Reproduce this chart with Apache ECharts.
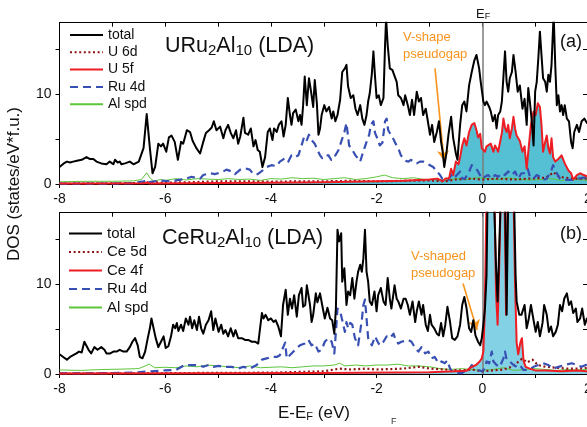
<!DOCTYPE html>
<html>
<head>
<meta charset="utf-8">
<script src="https://cdn.jsdelivr.net/npm/echarts@6/dist/echarts.min.js"></script>
<style>
html,body{margin:0;padding:0;background:#fff;}
#chart{width:587px;height:427px;}
</style>
</head>
<body>
<div id="chart"></div>
<script>
// Energy axis ticks / labels (eV, relative to E_F)
const xTicks = [-8, -7, -6, -5, -4, -3, -2, -1, 0, 1, 2];
const xLabels = [-8, -6, -4, -2, 0, 2];
const yTicks = [0, 5, 10, 15];
const yLabels = [0, 10];

// ---- URu2Al10 (LDA): [energy, DOS] ----
const uTotal = [[-8.00,1.9],[-7.92,2.3],[-7.86,2.5],[-7.80,2.4],[-7.74,2.5],[-7.67,2.6],[-7.64,2.8],[-7.58,2.7],[-7.49,3.0],[-7.43,2.8],[-7.36,2.8],[-7.30,2.5],[-7.21,2.3],[-7.11,2.2],[-7.05,2.5],[-6.98,2.2],[-6.95,2.7],[-6.90,2.4],[-6.86,2.5],[-6.83,2.2],[-6.76,2.3],[-6.67,2.5],[-6.60,2.2],[-6.50,2.5],[-6.41,4.0],[-6.35,7.8],[-6.29,4.0],[-6.24,1.2],[-6.19,1.9],[-6.13,4.5],[-6.08,4.2],[-6.04,4.5],[-5.98,3.6],[-5.93,5.2],[-5.88,5.4],[-5.82,4.7],[-5.76,2.7],[-5.70,4.7],[-5.66,4.5],[-5.59,6.0],[-5.53,5.8],[-5.48,4.8],[-5.41,4.0],[-5.34,3.4],[-5.28,4.7],[-5.23,5.7],[-5.17,6.0],[-5.12,6.3],[-5.08,7.0],[-5.03,6.0],[-4.96,6.4],[-4.90,5.1],[-4.86,6.0],[-4.81,6.6],[-4.76,5.7],[-4.71,5.1],[-4.66,6.0],[-4.62,4.5],[-4.58,5.3],[-4.52,7.4],[-4.49,5.7],[-4.43,5.5],[-4.38,6.2],[-4.33,4.2],[-4.29,4.9],[-4.25,3.8],[-4.21,3.6],[-4.16,1.9],[-4.11,3.0],[-4.06,5.8],[-4.02,6.2],[-3.97,4.9],[-3.94,6.2],[-3.89,5.8],[-3.85,6.6],[-3.80,7.0],[-3.76,5.3],[-3.72,6.6],[-3.68,9.6],[-3.64,7.7],[-3.61,6.6],[-3.58,7.9],[-3.53,8.3],[-3.48,7.0],[-3.45,7.7],[-3.42,6.6],[-3.39,8.8],[-3.36,12.0],[-3.32,8.8],[-3.28,11.8],[-3.24,10.3],[-3.20,8.6],[-3.17,11.6],[-3.13,9.0],[-3.10,5.5],[-3.07,6.2],[-3.04,7.7],[-2.99,8.8],[-2.95,8.1],[-2.90,8.6],[-2.85,7.3],[-2.82,8.1],[-2.78,7.0],[-2.74,7.7],[-2.69,9.4],[-2.65,12.5],[-2.60,12.9],[-2.57,13.3],[-2.54,10.9],[-2.49,9.6],[-2.44,9.9],[-2.40,8.4],[-2.36,7.7],[-2.31,8.8],[-2.27,7.3],[-2.23,6.6],[-2.19,7.7],[-2.16,9.2],[-2.13,10.1],[-2.09,12.3],[-2.06,14.8],[-2.03,12.0],[-2.00,9.6],[-1.96,9.9],[-1.92,8.8],[-1.87,9.6],[-1.84,15.5],[-1.82,18.5],[-1.79,15.5],[-1.75,12.9],[-1.70,12.7],[-1.67,12.2],[-1.62,11.4],[-1.59,9.9],[-1.54,9.6],[-1.49,8.8],[-1.46,9.9],[-1.41,8.8],[-1.37,7.7],[-1.33,9.4],[-1.29,7.7],[-1.24,10.3],[-1.20,9.2],[-1.16,9.6],[-1.12,7.7],[-1.07,8.4],[-1.03,7.0],[-0.99,5.5],[-0.95,6.6],[-0.91,4.7],[-0.86,5.8],[-0.82,7.0],[-0.78,4.7],[-0.75,3.6],[-0.72,1.9],[-0.68,3.4],[-0.64,5.5],[-0.59,7.5],[-0.55,5.1],[-0.50,3.4],[-0.47,2.7],[-0.42,6.6],[-0.38,8.8],[-0.34,9.2],[-0.30,8.1],[-0.25,11.0],[-0.20,12.5],[-0.15,13.8],[-0.11,14.4],[-0.06,12.9],[-0.03,11.4],[0.02,9.2],[0.05,8.8],[0.08,9.2],[0.13,8.6],[0.16,8.1],[0.20,7.0],[0.24,7.7],[0.27,6.2],[0.30,7.7],[0.34,8.1],[0.37,9.2],[0.40,9.2],[0.43,14.8],[0.46,11.4],[0.49,10.3],[0.52,11.8],[0.56,12.5],[0.59,14.4],[0.63,12.5],[0.67,10.3],[0.71,11.0],[0.76,8.4],[0.80,9.5],[0.84,6.6],[0.87,10.7],[0.90,9.2],[0.93,7.4],[0.97,4.3],[1.00,10.3],[1.03,11.4],[1.06,14.0],[1.09,17.0],[1.12,14.4],[1.15,11.8],[1.19,11.4],[1.22,10.3],[1.25,12.2],[1.28,11.4],[1.31,13.3],[1.35,19.0],[1.38,13.3],[1.41,8.8],[1.44,9.9],[1.47,8.1],[1.50,8.8],[1.53,7.7],[1.56,8.8],[1.60,7.3],[1.64,7.0],[1.68,4.7],[1.71,4.0],[1.74,5.8],[1.79,6.6],[1.83,5.8],[1.88,7.0],[1.93,7.3],[1.98,6.8],[2.00,6.9]];
const u6d = [[-8.0,0.05],[-6.5,0.1],[-6.3,0.2],[-6.0,0.15],[-5.5,0.2],[-5.0,0.3],[-4.5,0.3],[-4.0,0.25],[-3.5,0.3],[-3.0,0.3],[-2.5,0.35],[-2.0,0.3],[-1.5,0.35],[-1.0,0.4],[-0.7,0.3],[-0.5,0.5],[-0.2,0.6],[0.0,0.5],[0.3,0.6],[0.6,0.5],[0.9,0.6],[1.2,0.7],[1.35,1.3],[1.45,0.8],[1.7,0.6],[2.0,0.6]];
const u5f = [[-8.0,0.05],[-6.4,0.08],[-6.35,0.15],[-6.3,0.05],[-5.0,0.1],[-4.0,0.15],[-3.0,0.2],[-2.0,0.3],[-1.5,0.35],[-1.0,0.5],[-0.85,0.6],[-0.75,0.3],[-0.70,0.6],[-0.63,0.6],[-0.59,1.7],[-0.55,1.0],[-0.50,2.5],[-0.45,2.2],[-0.42,3.0],[-0.38,4.3],[-0.34,5.1],[-0.30,4.3],[-0.25,5.8],[-0.20,6.6],[-0.15,6.8],[-0.11,6.0],[-0.08,5.2],[-0.04,5.6],[-0.01,4.0],[0.02,4.2],[0.05,3.6],[0.08,4.2],[0.11,4.0],[0.16,4.5],[0.21,3.6],[0.24,4.3],[0.27,4.0],[0.30,3.6],[0.34,4.8],[0.37,5.7],[0.40,7.3],[0.43,6.3],[0.46,5.8],[0.49,6.6],[0.52,5.1],[0.56,6.2],[0.59,7.5],[0.62,6.2],[0.65,5.4],[0.68,5.1],[0.71,4.8],[0.76,3.6],[0.80,4.2],[0.84,1.7],[0.87,3.6],[0.92,6.6],[0.97,8.1],[1.01,7.7],[1.05,9.0],[1.09,8.6],[1.12,6.6],[1.15,3.6],[1.19,4.7],[1.22,5.4],[1.25,4.0],[1.28,3.4],[1.31,5.1],[1.34,3.0],[1.38,2.5],[1.44,2.8],[1.50,3.2],[1.56,2.3],[1.63,1.5],[1.68,1.2],[1.72,0.5],[1.79,1.0],[1.85,1.2],[1.92,1.0],[2.0,0.8]];
const uRu4d = [[-8.0,0.05],[-7.0,0.05],[-6.6,0.1],[-6.4,0.3],[-6.35,0.5],[-6.3,0.2],[-6.1,0.4],[-5.9,0.3],[-5.6,0.6],[-5.5,0.8],[-5.34,0.6],[-5.28,1.0],[-5.15,1.2],[-5.06,1.1],[-4.9,1.4],[-4.84,1.6],[-4.74,1.4],[-4.68,1.1],[-4.58,1.6],[-4.49,1.75],[-4.4,1.6],[-4.33,1.1],[-4.25,1.1],[-4.18,1.4],[-4.08,1.9],[-3.99,2.1],[-3.89,2.0],[-3.83,2.5],[-3.73,2.9],[-3.67,2.5],[-3.61,3.2],[-3.54,3.0],[-3.48,3.2],[-3.42,4.3],[-3.37,5.3],[-3.32,4.9],[-3.28,5.5],[-3.23,4.9],[-3.17,4.5],[-3.12,3.8],[-3.07,3.2],[-3.03,2.9],[-2.98,3.2],[-2.91,3.2],[-2.86,2.7],[-2.82,2.7],[-2.78,3.2],[-2.72,3.8],[-2.67,4.7],[-2.61,5.8],[-2.57,6.8],[-2.52,4.3],[-2.48,4.0],[-2.44,3.6],[-2.40,3.2],[-2.36,2.9],[-2.31,2.5],[-2.28,3.1],[-2.23,4.0],[-2.19,4.7],[-2.14,5.5],[-2.11,6.6],[-2.06,7.0],[-2.03,5.7],[-1.98,5.0],[-1.94,4.3],[-1.89,4.6],[-1.84,7.0],[-1.81,7.3],[-1.78,6.0],[-1.73,5.5],[-1.68,5.0],[-1.64,4.5],[-1.59,4.0],[-1.54,3.2],[-1.50,2.9],[-1.45,2.6],[-1.40,2.5],[-1.35,2.7],[-1.30,2.5],[-1.24,2.3],[-1.18,2.5],[-1.12,2.5],[-1.05,2.3],[-0.99,2.1],[-0.93,1.9],[-0.86,1.4],[-0.80,1.0],[-0.76,0.6],[-0.71,0.6],[-0.64,0.45],[-0.59,1.0],[-0.55,0.6],[-0.48,1.0],[-0.42,1.4],[-0.38,0.6],[-0.33,0.6],[-0.26,1.2],[-0.20,2.1],[-0.14,1.9],[-0.08,1.4],[-0.01,0.6],[0.05,0.8],[0.11,1.0],[0.18,0.6],[0.24,1.0],[0.30,0.8],[0.37,1.2],[0.43,1.0],[0.49,1.4],[0.56,1.0],[0.62,1.4],[0.68,0.6],[0.74,1.2],[0.81,1.2],[0.86,1.7],[0.90,0.8],[0.97,0.6],[1.03,1.0],[1.09,0.8],[1.15,0.45],[1.22,0.6],[1.30,1.4],[1.34,2.1],[1.39,1.4],[1.47,0.6],[1.56,0.45],[1.69,0.45],[1.82,0.6],[2.0,0.8]];
const uAlSpd = [[-8.0,0.25],[-7.5,0.3],[-7.0,0.3],[-6.6,0.35],[-6.45,0.5],[-6.35,1.25],[-6.28,0.6],[-6.2,0.3],[-6.1,0.5],[-6.0,0.4],[-5.8,0.6],[-5.6,0.45],[-5.4,0.6],[-5.2,0.55],[-5.0,0.5],[-4.8,0.6],[-4.6,0.5],[-4.4,0.55],[-4.2,0.4],[-4.0,0.6],[-3.8,0.55],[-3.6,0.7],[-3.4,0.6],[-3.2,0.65],[-3.0,0.5],[-2.8,0.6],[-2.6,0.7],[-2.4,0.5],[-2.2,0.6],[-2.0,0.8],[-1.85,1.0],[-1.7,0.7],[-1.5,0.6],[-1.3,0.7],[-1.1,0.5],[-0.9,0.5],[-0.7,0.4],[-0.5,0.6],[-0.3,0.5],[-0.1,0.7],[0.1,0.6],[0.3,0.5],[0.5,0.7],[0.7,0.5],[0.9,0.45],[1.1,0.5],[1.3,0.6],[1.5,0.4],[1.7,0.5],[1.9,0.45],[2.0,0.4]];

// ---- CeRu2Al10 (LDA): [energy, DOS] ----
const ceTotal = [[-8.00,2.2],[-7.93,1.9],[-7.86,1.6],[-7.80,1.9],[-7.74,2.1],[-7.68,2.3],[-7.63,2.5],[-7.58,2.4],[-7.53,3.6],[-7.50,3.8],[-7.45,2.7],[-7.40,2.3],[-7.34,3.0],[-7.28,2.7],[-7.21,3.0],[-7.15,2.7],[-7.11,2.3],[-7.04,2.3],[-6.98,2.5],[-6.92,2.5],[-6.86,2.7],[-6.79,2.5],[-6.73,2.5],[-6.67,3.0],[-6.62,3.6],[-6.57,4.0],[-6.52,3.2],[-6.48,1.9],[-6.43,1.75],[-6.38,2.5],[-6.33,4.0],[-6.29,5.1],[-6.26,6.2],[-6.22,5.1],[-6.18,4.0],[-6.13,3.0],[-6.08,3.6],[-6.03,4.2],[-5.99,2.9],[-5.94,3.1],[-5.89,4.2],[-5.85,5.5],[-5.81,5.1],[-5.78,5.7],[-5.75,4.8],[-5.70,5.5],[-5.66,4.8],[-5.61,6.2],[-5.56,5.5],[-5.53,6.4],[-5.49,5.1],[-5.45,6.0],[-5.40,4.9],[-5.36,6.4],[-5.32,5.1],[-5.28,4.5],[-5.23,5.5],[-5.18,6.0],[-5.13,7.0],[-5.09,4.9],[-5.05,6.2],[-4.99,4.7],[-4.94,5.5],[-4.90,4.5],[-4.86,4.9],[-4.81,4.2],[-4.76,5.1],[-4.71,4.2],[-4.67,4.9],[-4.62,4.0],[-4.55,4.0],[-4.49,3.8],[-4.43,3.8],[-4.36,3.6],[-4.30,3.6],[-4.24,3.4],[-4.21,3.6],[-4.17,6.8],[-4.14,6.2],[-4.10,6.6],[-4.05,6.0],[-4.00,6.2],[-3.95,5.8],[-3.91,6.0],[-3.86,5.3],[-3.81,4.2],[-3.77,7.7],[-3.72,9.4],[-3.68,6.6],[-3.64,8.4],[-3.60,7.3],[-3.56,8.8],[-3.51,6.4],[-3.47,8.8],[-3.42,9.6],[-3.39,7.5],[-3.35,7.7],[-3.32,9.9],[-3.29,10.1],[-3.26,7.7],[-3.23,5.8],[-3.20,6.6],[-3.15,9.0],[-3.12,8.0],[-3.07,9.0],[-3.03,7.7],[-2.98,6.2],[-2.93,7.4],[-2.88,6.2],[-2.84,6.0],[-2.80,4.5],[-2.77,7.3],[-2.74,16.1],[-2.71,14.8],[-2.67,15.7],[-2.65,10.3],[-2.61,11.8],[-2.57,7.7],[-2.54,9.2],[-2.50,8.8],[-2.46,10.7],[-2.42,8.4],[-2.38,10.3],[-2.35,11.4],[-2.31,12.2],[-2.28,11.4],[-2.25,12.9],[-2.22,16.1],[-2.19,11.4],[-2.16,10.3],[-2.13,8.1],[-2.09,7.7],[-2.04,9.2],[-2.00,7.0],[-1.97,8.8],[-1.92,9.6],[-1.87,8.1],[-1.83,7.7],[-1.79,10.7],[-1.75,8.4],[-1.72,7.3],[-1.66,9.9],[-1.62,8.4],[-1.59,8.1],[-1.54,7.3],[-1.49,8.4],[-1.45,8.4],[-1.41,7.7],[-1.37,6.6],[-1.32,8.1],[-1.27,5.8],[-1.24,7.0],[-1.20,8.1],[-1.15,6.6],[-1.12,7.7],[-1.07,5.5],[-1.03,4.8],[-0.99,6.6],[-0.96,5.5],[-0.91,5.1],[-0.86,4.5],[-0.82,4.3],[-0.78,5.7],[-0.74,4.2],[-0.70,5.5],[-0.66,7.5],[-0.61,5.8],[-0.57,4.0],[-0.52,3.8],[-0.47,4.2],[-0.42,5.5],[-0.38,7.7],[-0.34,8.6],[-0.30,7.4],[-0.25,5.1],[-0.21,4.7],[-0.17,6.0],[-0.13,4.3],[-0.08,3.6],[-0.04,3.2],[-0.01,4.0],[0.02,5.5],[0.05,7.3],[0.08,11.0],[0.10,20.0],[0.22,20.0],[0.26,12.0],[0.29,8.1],[0.32,14.0],[0.35,20.0],[0.43,20.0],[0.46,6.6],[0.49,20.0],[0.60,20.0],[0.63,11.0],[0.65,8.1],[0.70,6.6],[0.74,6.6],[0.80,7.7],[0.84,5.1],[0.88,6.2],[0.92,7.7],[0.97,6.0],[1.01,4.7],[1.05,5.8],[1.09,4.2],[1.14,5.7],[1.17,7.7],[1.22,6.6],[1.26,4.7],[1.30,5.3],[1.34,4.2],[1.39,4.7],[1.43,5.5],[1.47,7.7],[1.51,7.0],[1.55,8.4],[1.60,9.0],[1.64,7.7],[1.68,8.1],[1.72,6.8],[1.77,7.3],[1.80,5.8],[1.85,6.2],[1.89,7.3],[1.94,5.5],[1.98,6.2],[2.00,6.0]];
const ce5d = [[-8.0,0.05],[-6.0,0.1],[-4.0,0.15],[-3.0,0.3],[-2.7,0.6],[-2.5,0.5],[-2.2,0.6],[-2.0,0.5],[-1.5,0.6],[-1.2,0.8],[-1.0,0.6],[-0.7,0.5],[-0.4,0.4],[-0.2,0.5],[0.0,0.3],[0.2,0.4],[0.4,0.5],[0.55,0.8],[0.65,1.2],[0.75,1.7],[0.85,1.3],[0.95,1.6],[1.05,1.0],[1.2,0.8],[1.4,0.7],[1.6,0.6],[1.8,0.6],[2.0,0.7]];
const ce4f = [[-8.0,0.05],[-3.0,0.1],[-1.0,0.2],[-0.5,0.3],[-0.3,0.35],[-0.2,0.8],[-0.12,1.0],[-0.05,1.4],[-0.01,1.75],[0.02,2.5],[0.04,5.8],[0.06,12.0],[0.08,20.0],[0.23,20.0],[0.26,9.0],[0.29,5.5],[0.32,12.0],[0.35,20.0],[0.42,20.0],[0.45,6.6],[0.48,20.0],[0.59,20.0],[0.62,10.0],[0.65,3.5],[0.68,2.2],[0.72,3.5],[0.75,4.0],[0.78,1.5],[0.82,0.8],[0.9,0.6],[1.0,0.4],[1.2,0.4],[1.5,0.3],[1.8,0.4],[2.0,0.3]];
const ceRu4d = [[-8.0,0.1],[-7.0,0.1],[-6.6,0.15],[-6.3,0.3],[-6.0,0.4],[-5.8,0.45],[-5.63,1.0],[-5.37,1.0],[-5.28,0.8],[-5.18,1.0],[-5.09,0.8],[-4.99,0.9],[-4.87,0.8],[-4.74,0.8],[-4.62,0.6],[-4.52,0.8],[-4.40,0.6],[-4.27,1.0],[-4.17,1.6],[-4.08,1.75],[-3.99,1.9],[-3.89,1.9],[-3.83,2.1],[-3.73,3.5],[-3.70,1.75],[-3.61,2.3],[-3.51,2.9],[-3.45,3.2],[-3.36,3.4],[-3.29,3.8],[-3.23,3.2],[-3.17,3.4],[-3.10,2.5],[-3.04,2.7],[-2.98,3.6],[-2.91,4.0],[-2.85,3.6],[-2.80,2.3],[-2.77,4.7],[-2.74,7.3],[-2.69,7.0],[-2.65,6.0],[-2.60,4.7],[-2.57,5.8],[-2.54,5.1],[-2.50,5.7],[-2.46,5.5],[-2.41,4.0],[-2.35,3.2],[-2.28,6.0],[-2.25,7.7],[-2.22,8.3],[-2.19,6.2],[-2.16,4.0],[-2.09,3.2],[-2.03,4.2],[-1.98,3.6],[-1.94,3.2],[-1.87,3.6],[-1.81,4.2],[-1.75,4.0],[-1.68,4.5],[-1.64,3.8],[-1.59,3.4],[-1.53,3.6],[-1.46,3.7],[-1.40,3.8],[-1.34,3.6],[-1.27,2.9],[-1.21,2.5],[-1.15,3.0],[-1.08,2.3],[-1.02,2.5],[-0.96,1.75],[-0.90,1.9],[-0.83,1.2],[-0.77,1.4],[-0.71,1.2],[-0.66,1.5],[-0.61,0.6],[-0.57,0.3],[-0.48,0.1],[-0.39,0.1],[-0.33,0.3],[-0.26,0.45],[-0.20,1.0],[-0.14,0.6],[-0.08,0.45],[-0.01,0.3],[0.05,0.6],[0.08,1.4],[0.13,1.2],[0.18,2.5],[0.21,1.4],[0.27,1.0],[0.33,0.8],[0.40,1.75],[0.43,2.5],[0.46,1.6],[0.52,1.4],[0.59,1.0],[0.65,0.8],[0.71,1.0],[0.78,0.45],[0.87,0.45],[0.97,0.8],[1.06,1.0],[1.15,1.2],[1.25,1.0],[1.34,0.6],[1.44,0.8],[1.56,1.0],[1.69,1.2],[1.79,1.0],[1.88,0.8],[2.0,1.1]];
const ceAlSpd = [[-8.0,0.45],[-7.6,0.4],[-7.2,0.5],[-6.8,0.55],[-6.5,0.6],[-6.3,1.1],[-6.2,0.7],[-6.0,0.75],[-5.8,0.7],[-5.6,0.9],[-5.4,0.8],[-5.2,1.0],[-5.0,0.9],[-4.8,0.8],[-4.6,0.7],[-4.4,0.9],[-4.2,0.7],[-4.0,0.75],[-3.8,0.8],[-3.6,0.7],[-3.4,0.8],[-3.2,0.9],[-3.0,0.9],[-2.8,1.0],[-2.7,1.2],[-2.6,0.9],[-2.4,1.0],[-2.2,0.9],[-2.0,1.0],[-1.8,1.0],[-1.6,1.1],[-1.4,0.9],[-1.2,0.9],[-1.0,0.8],[-0.8,0.6],[-0.6,0.5],[-0.4,0.6],[-0.2,0.5],[0.0,0.4],[0.2,0.5],[0.4,0.7],[0.6,0.4],[0.8,0.5],[1.0,0.6],[1.2,0.5],[1.4,0.4],[1.6,0.5],[1.8,0.45],[2.0,0.5]];

// Pseudogap arrows: [start, end] in (energy, DOS)
const arrowTop = [[-0.895, 12.9], [-0.725, 2.6]];
const arrowBottom = [[-0.365, 10.1], [-0.10, 4.9]];

const FONT = 'Liberation Sans, Arial, Helvetica, sans-serif';
const C = {
  total: '#000000', d: '#8e1212', f: '#ee1d24', ru: '#3950b3', al: '#5dc53b',
  fillTop: '#55bfd3', fillBot: '#82d1e4', orange: '#f7941d', ef: '#7d7d7d'
};

const grids = [
  { left: 59.5, top: 22.7, width: 528.5, height: 161.3, outerBoundsMode: 'none', containLabel: false },
  { left: 59.5, top: 212.7, width: 528.5, height: 161.3, outerBoundsMode: 'none', containLabel: false }
];

function xAxes(g) {
  return [
    { gridIndex: g, type: 'value', min: -8, max: 2, position: 'bottom',
      axisLine: { onZero: false, lineStyle: { color: '#000', width: 1 } },
      axisTick: { inside: false, length: 4, customValues: xTicks, lineStyle: { color: '#000' } },
      axisLabel: { customValues: xLabels, fontSize: 14, color: '#111', fontFamily: FONT, margin: 8,
                   hideOverlap: false },
      splitLine: { show: false } },
    { gridIndex: g, type: 'value', min: -8, max: 2, position: 'top',
      axisLine: { onZero: false, lineStyle: { color: '#000', width: 1 } },
      axisTick: { inside: true, length: 4, customValues: xTicks, lineStyle: { color: '#000' } },
      axisLabel: { show: false }, splitLine: { show: false } }
  ];
}
function yAxes(g) {
  return [
    { gridIndex: g, type: 'value', min: 0, max: 18, position: 'left',
      axisLine: { show: true, onZero: false, lineStyle: { color: '#000', width: 1 } },
      axisTick: { show: true, inside: false, length: 4, customValues: yTicks, lineStyle: { color: '#000' } },
      axisLabel: { customValues: yLabels, fontSize: 14, color: '#111', fontFamily: FONT, margin: 8 },
      splitLine: { show: false } },
    { gridIndex: g, type: 'value', min: 0, max: 18, position: 'right',
      axisLine: { show: true, onZero: false, lineStyle: { color: '#000', width: 1 } },
      axisTick: { show: true, inside: true, length: 5, customValues: yTicks, lineStyle: { color: '#000' } },
      axisLabel: { show: false }, splitLine: { show: false } }
  ];
}

function line(name, data, g, style, z) {
  return {
    name, type: 'line', data, xAxisIndex: g * 2, yAxisIndex: g * 2,
    symbol: 'none', showSymbol: false, clip: true, z: z,
    lineStyle: Object.assign({ join: 'round' }, style),
    emphasis: { disabled: true }
  };
}
function fill(data, g, color) {
  return {
    name: 'fill' + g, type: 'line', data, xAxisIndex: g * 2, yAxisIndex: g * 2,
    symbol: 'none', clip: true, z: 1,
    lineStyle: { width: 0 }, areaStyle: { color: color, opacity: 1, origin: 'start' },
    emphasis: { disabled: true },
    markLine: {
      silent: true, symbol: 'none', z: 1.5, label: { show: false },
      lineStyle: { color: C.ef, width: 1.5, type: 'solid' },
      data: [{ xAxis: 0 }]
    }
  };
}
function arrow(seg, g) {
  return {
    name: 'arrow' + g, type: 'line', data: [], xAxisIndex: g * 2, yAxisIndex: g * 2,
    markLine: {
      silent: true, symbol: ['none', 'arrow'], symbolSize: [9, 10], label: { show: false },
      lineStyle: { color: C.orange, width: 1.6, type: 'solid' },
      data: [[{ coord: seg[0] }, { coord: seg[1] }]]
    }
  };
}

const series = [
  fill(u5f, 0, C.fillTop),
  line('Al spd', uAlSpd, 0, { color: C.al, width: 1 }, 2),
  line('U 6d', u6d, 0, { color: C.d, width: 2.2, type: [2, 2.6] }, 3),
  line('Ru 4d', uRu4d, 0, { color: C.ru, width: 2.2, type: [8, 5] }, 4),
  line('U 5f', u5f, 0, { color: C.f, width: 2 }, 5),
  line('total', uTotal, 0, { color: C.total, width: 2 }, 6),
  arrow(arrowTop, 0),

  fill(ce4f, 1, C.fillBot),
  line('Al spd', ceAlSpd, 1, { color: C.al, width: 1 }, 2),
  line('Ce 5d', ce5d, 1, { color: C.d, width: 2.2, type: [2, 2.6] }, 3),
  line('Ru 4d', ceRu4d, 1, { color: C.ru, width: 2.2, type: [8, 5] }, 4),
  line('Ce 4f', ce4f, 1, { color: C.f, width: 2 }, 5),
  line('total', ceTotal, 1, { color: C.total, width: 2 }, 6),
  arrow(arrowBottom, 1)
];

const legendBase = {
  orient: 'vertical', padding: 0, itemWidth: 33, selectedMode: false,
  itemStyle: { opacity: 0, borderWidth: 0 }
};

function sub(text, x, y, size, subSize, drop) {
  return {
    type: 'text', x: x, y: y, silent: true,
    style: {
      text: text, verticalAlign: 'middle', fill: '#111',
      rich: {
        n: { fontSize: size, fontFamily: FONT, fill: '#111' },
        s: { fontSize: subSize, fontFamily: FONT, fill: '#111', padding: [drop, 0, 0, 0] }
      }
    }
  };
}

const option = {
  animation: false,
  backgroundColor: '#fff',
  grid: grids,
  xAxis: [...xAxes(0), ...xAxes(1)],
  yAxis: [...yAxes(0), ...yAxes(1)],
  legend: [
    Object.assign({}, legendBase, {
      data: ['total', 'U 6d', 'U 5f', 'Ru 4d', 'Al spd'],
      left: 69, top: 28, itemHeight: 14, itemGap: 3.3,
      textStyle: { color: '#111', fontFamily: FONT, fontSize: 14 }
    }),
    Object.assign({}, legendBase, {
      data: ['total', 'Ce 5d', 'Ce 4f', 'Ru 4d', 'Al spd'],
      left: 68, top: 226, itemHeight: 15, itemGap: 3.5,
      textStyle: { color: '#111', fontFamily: FONT, fontSize: 15 }
    })
  ],
  series: series,
  graphic: [
    sub('{n|URu}{s|2}{n|Al}{s|10}{n| (LDA)}', 165, 46, 21.5, 15, 10),
    sub('{n|CeRu}{s|2}{n|Al}{s|10}{n| (LDA)}', 162, 238, 21.5, 15, 10),
    sub('{n|E}{s|F}', 476, 14, 13, 9, 6),
    sub('{n|E-E}{s|F}{n| (eV)}', 278, 413, 17, 11, 8),
    { type: 'text', x: 560, y: 42, silent: true,
      style: { text: '(a)', fontSize: 18, fontFamily: FONT, fill: '#111', verticalAlign: 'middle' } },
    { type: 'text', x: 560, y: 234, silent: true,
      style: { text: '(b)', fontSize: 18, fontFamily: FONT, fill: '#111', verticalAlign: 'middle' } },
    { type: 'text', x: 403, y: 46, silent: true,
      style: { text: 'V-shape\npseudogap', fontSize: 13, lineHeight: 17, fontFamily: FONT,
               fill: C.orange, verticalAlign: 'middle' } },
    { type: 'text', x: 411, y: 265, silent: true,
      style: { text: 'V-shaped\npseudogap', fontSize: 13, lineHeight: 17, fontFamily: FONT,
               fill: C.orange, verticalAlign: 'middle' } },
    { type: 'text', x: 14, y: 184, rotation: Math.PI / 2, silent: true,
      style: { text: 'DOS (states/eV*f.u.)', fontSize: 17, fontFamily: FONT, fill: '#111',
               align: 'center', verticalAlign: 'middle' } },
    { type: 'text', x: 391, y: 422, silent: true,
      style: { text: 'F', fontSize: 9, fontFamily: FONT, fill: '#333', verticalAlign: 'middle' } }
  ]
};

const chart = echarts.init(document.getElementById('chart'), null, { renderer: 'canvas' });
chart.setOption(option);
</script>
</body>
</html>
